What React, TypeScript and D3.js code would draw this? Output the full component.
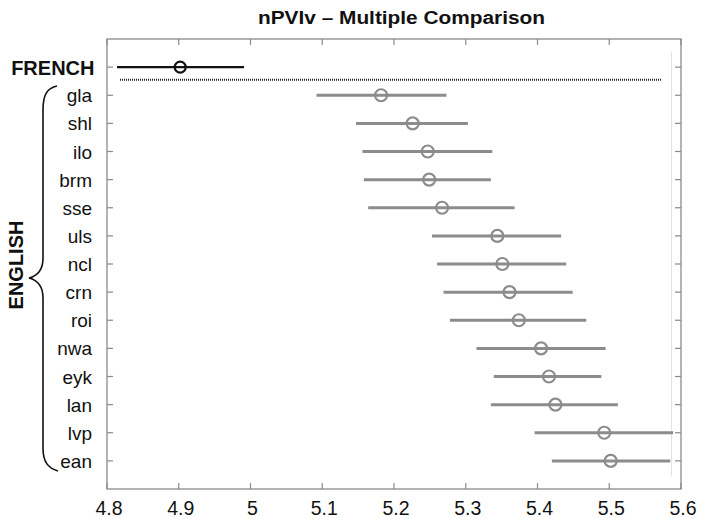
import React from "react";
import * as d3 from "d3";

const categories = ["FRENCH", "gla", "shl", "ilo", "brm", "sse", "uls", "ncl", "crn", "roi", "nwa", "eyk", "lan", "lvp", "ean"];
const means = [4.902, 5.182, 5.226, 5.247, 5.249, 5.267, 5.344, 5.351, 5.361, 5.374, 5.405, 5.416, 5.425, 5.493, 5.502];
const lower = [4.814, 5.092, 5.147, 5.156, 5.158, 5.164, 5.253, 5.260, 5.269, 5.278, 5.315, 5.339, 5.335, 5.396, 5.420];
const upper = [4.991, 5.273, 5.303, 5.337, 5.335, 5.368, 5.433, 5.440, 5.449, 5.468, 5.495, 5.489, 5.512, 5.589, 5.585];
const xTicks = [4.8, 4.9, 5.0, 5.1, 5.2, 5.3, 5.4, 5.5, 5.6];
const xTickLabels = ["4.8", "4.9", "5", "5.1", "5.2", "5.3", "5.4", "5.5", "5.6"];
const title = "nPVIv \u2013 Multiple Comparison";
const groupLabel = "ENGLISH";

export default function App() {
  const W = 701, H = 519;
  const left = 107, right = 681, top = 39, bottom = 489;
  const x = d3.scaleLinear().domain([4.8, 5.6]).range([left, right]);
  const y = d3.scaleLinear().domain([0, 16]).range([top, bottom]);
  const font = "'Liberation Sans', Arial, Helvetica, sans-serif";
  const frame = "#8a8a8a";
  const gray = "#8c8c8c";
  const tickLen = 6;
  const sepY = (y(1) + y(2)) / 2 - 1.5;

  return (
    <svg width={W} height={H} style={{ position: "absolute", left: 0, top: 0, background: "#fff" }}>
      <rect x={0} y={0} width={W} height={H} fill="#fff" />
      <text x={258} y={24} textLength={287} lengthAdjust="spacingAndGlyphs" fontFamily={font} fontWeight="bold" fontSize={17.5} fill="#111">{title}</text>
      {/* faint inner line */}
      <line x1={671.5} x2={671.5} y1={52} y2={476} stroke="#e2e2e2" strokeWidth={1} />
      {/* frame */}
      <rect x={left} y={top} width={right - left} height={bottom - top} fill="none" stroke={frame} strokeWidth={1.3} />
      {xTicks.map((t, i) => (
        <g key={"xt" + i}>
          <line x1={x(t)} x2={x(t)} y1={bottom} y2={bottom - tickLen} stroke={frame} strokeWidth={1.2} />
          <line x1={x(t)} x2={x(t)} y1={top} y2={top + tickLen} stroke={frame} strokeWidth={1.2} />
          <text x={x(t) + 2} y={515} textAnchor="middle" fontFamily={font} fontSize={19.5} fill="#111">{xTickLabels[i]}</text>
        </g>
      ))}
      {categories.map((c, i) => (
        <g key={"yt" + i}>
          <line x1={left} x2={left + tickLen} y1={y(i + 1)} y2={y(i + 1)} stroke={frame} strokeWidth={1.2} />
          <line x1={right} x2={right - tickLen} y1={y(i + 1)} y2={y(i + 1)} stroke={frame} strokeWidth={1.2} />
          <text x={i === 0 ? 94.5 : 92} y={y(i + 1) + (i === 0 ? 8 : 7)} textAnchor="end" fontFamily={font} fontSize={i === 0 ? 20 : 19} fontWeight={i === 0 ? "bold" : "normal"} fill="#111">{c}</text>
        </g>
      ))}
      {/* separator */}
      <line x1={120} x2={662} y1={sepY} y2={sepY} stroke="#222" strokeWidth={2} strokeDasharray="1,1" />
      {/* error bars */}
      {categories.map((c, i) => {
        const isF = i === 0;
        const col = isF ? "#111" : gray;
        return (
          <g key={"eb" + i}>
            <line x1={x(lower[i])} x2={x(upper[i])} y1={y(i + 1)} y2={y(i + 1)} stroke={col} strokeWidth={isF ? 2.2 : 3} />
            <circle cx={x(means[i])} cy={y(i + 1)} r={isF ? 5.5 : 6} fill="none" stroke={col} strokeWidth={2.2} />
          </g>
        );
      })}
      {/* brace */}
      <path d="M57,86 C47,88 43,95 43,110 L43,258 C43,270 37,276 29,278 C37,280 43,286 43,298 L43,448 C43,462 48,468 58,471"
        fill="none" stroke="#111" strokeWidth={1.6} />
      <text transform="translate(22.5,265) rotate(-90)" textAnchor="middle" fontFamily={font} fontWeight="bold" fontSize={20} fill="#111">{groupLabel}</text>
    </svg>
  );
}
